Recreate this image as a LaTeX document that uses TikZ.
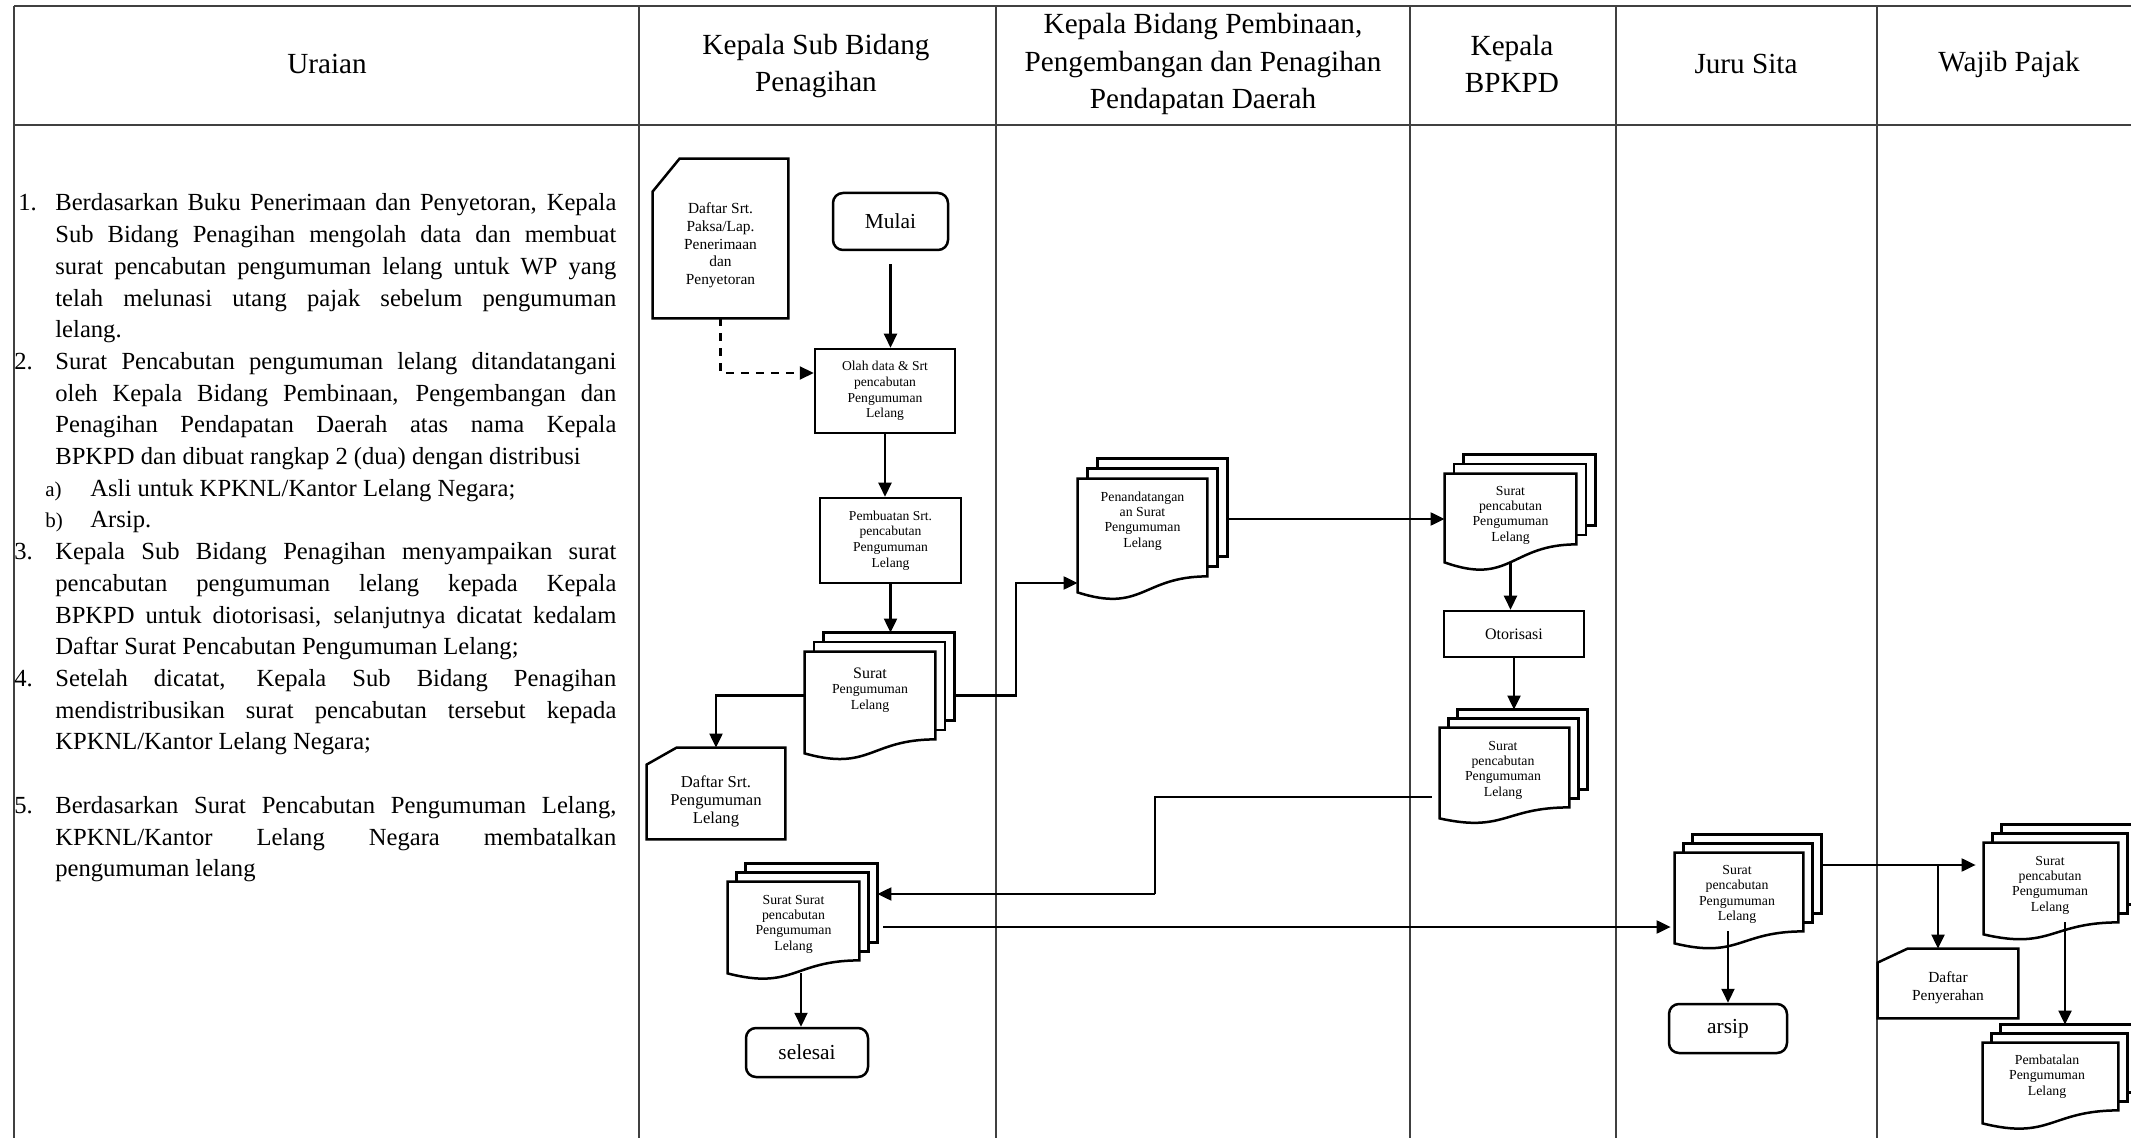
\documentclass[tikz,border=0pt]{standalone}
\usepackage{fontspec}
\setmainfont{Liberation Serif}
\usetikzlibrary{arrows.meta,calc}
\pgfdeclarelayer{paper}
\pgfsetlayers{paper,main}

\tikzset{
  gridline/.style={draw=black!75, line width=0.6pt},
  headline/.style={draw=black!75, line width=1pt},
  headtxt/.style={align=center, inner sep=0pt, text=black, font={\fontsize{14.6pt}{18.6pt}\selectfont}},
  bodytxt/.style={inner sep=0pt, text=black, font={\fontsize{12.3pt}{15.85pt}\selectfont}},
  boxproc/.style={draw=black, line width=1.25pt, inner sep=0pt, align=center, text=black,
    font={\fontsize{6.8pt}{7.85pt}\selectfont}},
  boxterm/.style={boxproc, rounded corners=5pt, font={\fontsize{10.7pt}{12pt}\selectfont}},
  stackbox/.style={inner sep=0pt},
  stacktxt/.style={align=center, inner sep=0pt, text=black, font={\fontsize{6.9pt}{7.65pt}\selectfont}},
  cardbox/.style={inner sep=0pt},
  cardtxt/.style={align=center, inner sep=0pt, text=black},
  sheetline/.style={draw=black, line width=1.25pt, fill=white, line join=miter},
  connline/.style={draw=black, line width=1.05pt},
  arrline/.style={connline, -{Triangle[length=7pt,width=6.5pt]}},
  dasharrline/.style={arrline, dash pattern=on 4pt off 3.5pt},
}

% stacked document: back sheets, front sheet with wavy bottom
% #1 node (front sheet box), #2 sheet offset, #3 depth of the wave
\newcommand{\sheets}[3]{%
  \begin{pgfonlayer}{paper}
    \draw[sheetline] ([shift={(2*#2,-2*#2)}]#1.south west) rectangle ([shift={(2*#2,-2*#2)}]#1.north east);
    \draw[sheetline] ([shift={(#2,-#2)}]#1.south west) rectangle ([shift={(#2,-#2)}]#1.north east);
    \draw[sheetline] (#1.north west) -- (#1.north east) -- (#1.south east)
      .. controls (#1.south) and ([shift={(0,2.31*#3)}]#1.south) .. ([shift={(0,#3)}]#1.south west) -- cycle;
  \end{pgfonlayer}
  \coordinate (#1-bne) at ([shift={(2*#2,-2*#2)}]#1.north east);
  \coordinate (#1-bot) at ([shift={(0,#3)}]#1.south);
}

% card (punched card) outline with a cut top-left corner
\newcommand{\cardline}[3]{%
  \draw[sheetline, fill=none] (#1.south west) -- (#1.south east) -- (#1.north east)
    -- ([xshift=#2]#1.north west) -- ([yshift=-#3]#1.north west) -- cycle;
}

% lines of the description column
\newcommand{\ujust}[3]{\node[bodytxt, anchor=base west] (#1) at (55,{211+31.7*#2}) {\makebox[280.5pt][s]{#3}};}
\newcommand{\ulast}[3]{\node[bodytxt, anchor=base west] (#1) at (55,{211+31.7*#2}) {#3};}
\newcommand{\usubitem}[4]{%
  \node[bodytxt, anchor=base west, font={\fontsize{10.5pt}{12pt}\selectfont}] (#1l) at (45,{211+31.7*#2}) {#3};
  \node[bodytxt, anchor=base west] (#1) at (90,{211+31.7*#2}) {#4};}
\newcommand{\unum}[4]{\node[bodytxt, anchor=base west] (#1) at (#3,{211+31.7*#2}) {#4};}

\begin{document}
\begin{tikzpicture}[x=0.5pt,y=-0.5pt]
\useasboundingbox (0,0) rectangle (2131,1138);

\begin{pgfonlayer}{paper}
  \fill[white] (0,0) rectangle (2131,1138);
  \draw[headline] (14,6) -- (2131,6);
  \draw[headline] (14,125) -- (2131,125);
  \foreach \x in {14,639,996,1410,1616,1877} {\draw[gridline] (\x,6) -- (\x,1138);}
\end{pgfonlayer}

% column heads
\node[headtxt] (hU) at (327,64) {Uraian};
\node[headtxt] (hK) at (816,66) {Kepala Sub Bidang\\Penagihan};
\node[headtxt] (hB) at (1203,64) {Kepala Bidang Pembinaan,\\Pengembangan dan Penagihan\\Pendapatan Daerah};
\node[headtxt] (hP) at (1512,64) {Kepala\\BPKPD};
\node[headtxt] (hJ) at (1746,64) {Juru Sita};
\node[headtxt] (hW) at (2009,64) {Wajib Pajak};

% description
\unum{n1}{0}{18}{1.}
\ujust{u0}{0}{Berdasarkan Buku Penerimaan dan Penyetoran, Kepala}
\ujust{u1}{1}{Sub Bidang Penagihan mengolah data dan membuat}
\ujust{u2}{2}{surat pencabutan pengumuman lelang untuk WP yang}
\ujust{u3}{3}{telah melunasi utang pajak sebelum pengumuman}
\ulast{u4}{4}{lelang.}
\unum{n2}{5}{14}{2.}
\ujust{u5}{5}{Surat Pencabutan pengumuman lelang ditandatangani}
\ujust{u6}{6}{oleh Kepala Bidang Pembinaan, Pengembangan dan}
\ujust{u7}{7}{Penagihan Pendapatan Daerah atas nama Kepala}
\ulast{u8}{8}{BPKPD dan dibuat rangkap 2 (dua) dengan distribusi}
\usubitem{u9}{9}{a)}{Asli untuk KPKNL/Kantor Lelang Negara;}
\usubitem{u10}{10}{b)}{Arsip.}
\unum{n3}{11}{14}{3.}
\ujust{u11}{11}{Kepala Sub Bidang Penagihan menyampaikan surat}
\ujust{u12}{12}{pencabutan pengumuman lelang kepada Kepala}
\ujust{u13}{13}{BPKPD untuk diotorisasi, selanjutnya dicatat kedalam}
\ulast{u14}{14}{Daftar Surat Pencabutan Pengumuman Lelang;}
\unum{n4}{15}{14}{4.}
\ujust{u15}{15}{Setelah dicatat, Kepala Sub Bidang Penagihan}
\ujust{u16}{16}{mendistribusikan surat pencabutan tersebut kepada}
\ulast{u17}{17}{KPKNL/Kantor Lelang Negara;}
\unum{n5}{19}{14}{5.}
\ujust{u19}{19}{Berdasarkan Surat Pencabutan Pengumuman Lelang,}
\ujust{u20}{20}{KPKNL/Kantor Lelang Negara membatalkan}
\ulast{u21}{21}{pengumuman lelang}

% Kepala Sub Bidang Penagihan
\node[boxterm, minimum width=57.5pt, minimum height=28.5pt] (mulai) at (890.5,221.5) {Mulai};
\node[cardbox, minimum width=67.5pt, minimum height=79.5pt] (ds1) at (720.5,238.5) {};
\cardline{ds1}{13.5pt}{16.5pt}
\node[cardtxt, font={\fontsize{7.7pt}{8.85pt}\selectfont}] (ds1t) at ([yshift=-3.5pt]ds1.center)
  {Daftar Srt.\\Paksa/Lap.\\Penerimaan\\dan\\Penyetoran};
\node[boxproc, minimum width=70pt, minimum height=42pt] (olah) at (885,391)
  {Olah data \& Srt\\pencabutan\\Pengumuman\\Lelang};
\node[boxproc, minimum width=70.5pt, minimum height=42.5pt] (pemb) at (890.5,540.5)
  {Pembuatan  Srt.\\pencabutan\\Pengumuman\\Lelang};

\node[stackbox, minimum width=65pt, minimum height=43.5pt] (sp) at (870,695.5) {};
\sheets{sp}{9.5}{14}
\node[stacktxt] (spt) at ([yshift=2.75pt]sp.center)
  {{\fontsize{8pt}{9pt}\selectfont Surat}\\Pengumuman\\Lelang};

\node[cardbox, minimum width=69pt, minimum height=45.5pt] (ds2) at (716,793.5) {};
\cardline{ds2}{15pt}{8.5pt}
\node[cardtxt, font={\fontsize{8.3pt}{9pt}\selectfont}] (ds2t) at ([yshift=-3.75pt]ds2.center)
  {Daftar Srt.\\Pengumuman\\Lelang};

\node[stackbox, minimum width=65.5pt, minimum height=39pt] (ss) at (793.5,921) {};
\sheets{ss}{9}{13}
\node[stacktxt] (sst) at ([yshift=-1.5pt]ss.center) {Surat Surat\\pencabutan\\Pengumuman\\Lelang};

\node[boxterm, minimum width=61pt, minimum height=24.5pt] (selesai) at (807,1052.5) {selesai};

% Kepala Bidang Pembinaan
\node[stackbox, minimum width=64.5pt, minimum height=48.5pt] (pt) at (1142.5,527.5) {};
\sheets{pt}{10}{16}
\node[stacktxt] (ptt) at ([yshift=3.25pt]pt.center) {Penandatangan\\an Surat\\Pengumuman\\Lelang};

% Kepala BPKPD
\node[stackbox, minimum width=65.5pt, minimum height=35pt] (b1) at (1510.5,509) {};
\sheets{b1}{9.5}{18}
\node[stacktxt] (b1t) at ([yshift=-3pt]b1.center) {Surat\\pencabutan\\Pengumuman\\Lelang};

\node[boxproc, minimum width=70pt, minimum height=23pt, font={\fontsize{8pt}{9pt}\selectfont}] (oto) at (1514,634) {Otorisasi};

\node[stackbox, minimum width=64.5pt, minimum height=39.5pt] (b2) at (1504.5,767.5) {};
\sheets{b2}{9}{11}
\node[stacktxt] (b2t) at ([shift={(-0.75pt,-1.25pt)}]b2.center) {Surat\\pencabutan\\Pengumuman\\Lelang};

% Juru Sita
\node[stackbox, minimum width=64pt, minimum height=39pt] (js) at (1739,892) {};
\sheets{js}{9}{12}
\node[stacktxt] (jst) at ([shift={(-1pt,-1.25pt)}]js.center) {Surat\\pencabutan\\Pengumuman\\Lelang};

\node[boxterm, minimum width=59pt, minimum height=24.5pt] (arsip) at (1728,1028.5) {arsip};

% Wajib Pajak
\node[stackbox, minimum width=67pt, minimum height=39.5pt] (wp1) at (2051,882.5) {};
\sheets{wp1}{9}{12}
\node[stacktxt] (wp1t) at ([shift={(-0.5pt,-1.25pt)}]wp1.center) {Surat\\pencabutan\\Pengumuman\\Lelang};

\node[cardbox, minimum width=70pt, minimum height=34.5pt] (dp) at (1948,983.5) {};
\cardline{dp}{15pt}{7pt}
\node[cardtxt, font={\fontsize{7.7pt}{9pt}\selectfont}] (dpt) at ([yshift=-2.25pt]dp.center) {Daftar\\Penyerahan};

\node[stackbox, minimum width=67.5pt, minimum height=33.5pt] (wp2) at (2050.5,1076.5) {};
\sheets{wp2}{9}{13}
\node[stacktxt] (wp2t) at ([xshift=-1.75pt]wp2.center) {Pembatalan\\Pengumuman\\Lelang};

% connectors
\draw[arrline] ([yshift=-6.5pt]mulai.south) -- (mulai.south |- olah.north);
\draw[dasharrline] (ds1.south) |- ([yshift=9pt]olah.west);
\draw[arrline] (olah.south) -- (olah.south |- pemb.north);
\draw[arrline] (pemb.south) -- (pemb.south |- sp-bne);
\draw[arrline] (sp.west) -| (ds2.north);

\coordinate (j1) at (1016,583);
\draw[arrline] ([xshift=9.5pt]sp.east) -| (j1) -- (j1 -| pt.west);

\coordinate (s7) at ([shift={(10pt,4.25pt)}]pt.east);
\draw[arrline] (s7) -- (s7 -| b1.west);

\draw[arrline] (b1-bot) -- (b1-bot |- oto.north);
\draw[arrline] (oto.south) -- (oto.south |- b2-bne);

\coordinate (j2) at (1155,894);
\draw[connline] ([shift={(-4pt,-14.75pt)}]b2.west) -| (j2);
\draw[arrline] (j2) -- (j2 -| ss-bne);

\coordinate (s11) at ([shift={(12pt,-3pt)}]ss.east);
\coordinate (e11a) at (s11 -| js.west);
\coordinate (e11) at ([xshift=-2pt]e11a);
\draw[arrline] (s11) -- (e11);

\coordinate (s12) at ([xshift=3.75pt]ss-bot);
\draw[arrline] (s12) -- (s12 |- selesai.north);

\draw[arrline] (arsip.north |- js.south) -- (arsip.north);

\coordinate (s14) at ([shift={(9pt,13.5pt)}]js.east);
\coordinate (e14a) at (s14 -| wp1.west);
\coordinate (e14) at ([xshift=-4pt]e14a);
\draw[arrline] (s14) -- (e14);

\coordinate (b15) at ([xshift=-5pt]dp.north);
\draw[arrline] (b15 |- s14) -- (b15);

\coordinate (s16) at ([xshift=7pt]wp1.south);
\draw[arrline] (s16) -- (s16 |- wp2-bne);
\end{tikzpicture}
\end{document}
